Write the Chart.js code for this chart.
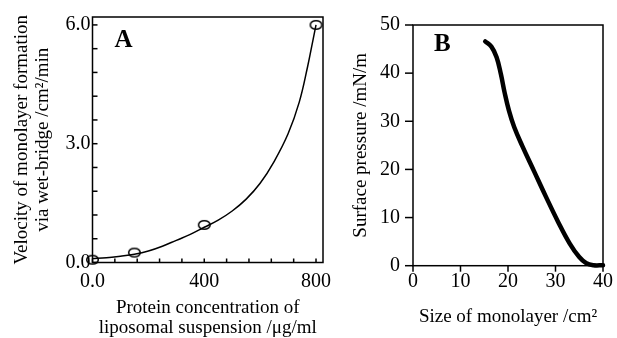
<!DOCTYPE html>
<html>
<head>
<meta charset="utf-8">
<script src="https://cdn.jsdelivr.net/npm/chart.js@4/dist/chart.umd.min.js"></script>
<style>
  html, body { margin: 0; padding: 0; background: #fff; }
  #wrap { position: relative; width: 617px; height: 338px; overflow: hidden; }
  canvas { position: absolute; top: 0; }
  #chartA { left: 0; }
  #chartB { left: 330px; }
</style>
</head>
<body>
<div id="wrap">
  <canvas id="chartA" width="340" height="338"></canvas>
  <canvas id="chartB" width="287" height="338"></canvas>
</div>
<script>
// Painel A: velocidade de formacao da monocamada
const concX = [0, 150, 400, 800];
const velocity = [0.07, 0.25, 0.95, 6.0];
const fitX = [0, 50, 100, 150, 200, 250, 300, 350, 400, 450, 500, 550, 600, 650, 700, 740, 770, 790, 800];
const fitY = [0.10, 0.12, 0.16, 0.21, 0.29, 0.41, 0.56, 0.71, 0.89, 1.07, 1.30, 1.60, 2.00, 2.55, 3.25, 4.05, 4.95, 5.65, 6.00];
const ticksAX = ['0.0', '400', '800'];
const ticksAY = ['0.0', '3.0', '6.0'];

// Painel B: isoterma pressao x area
const areaX = [15.2, 16.5, 17.6, 18.5, 19.3, 20.2, 21.3, 23, 25.5, 28, 30.5, 33, 35, 36.5, 38, 40];
const pressure = [46.6, 45.5, 43.3, 39.8, 35.9, 32.2, 28.8, 24.9, 19.6, 14.3, 9.2, 4.6, 1.8, 0.5, 0.1, 0.1];

const serif = '"Liberation Serif", "DejaVu Serif", serif';
Chart.defaults.font.family = serif;
Chart.defaults.color = '#000';

function pares(xs, ys) {
    return xs.map(function(x, i) { return { x: x, y: ys[i] }; });
}

// marcador eliptico (os circulos do original sao achatados)
const elipse = document.createElement('canvas');
elipse.width = 15; elipse.height = 12;
(function() {
    const c = elipse.getContext('2d');
    c.strokeStyle = '#000';
    c.lineWidth = 1.5;
    c.beginPath();
    c.ellipse(7.5, 6, 5.8, 4.3, 0, 0, Math.PI * 2);
    c.stroke();
})();

// moldura, marcas dos ticks e letra do painel
const moldura = {
    id: 'moldura',
    afterDraw(chart, args, opts) {
        const ctx = chart.ctx;
        const a = chart.chartArea;
        ctx.save();
        ctx.strokeStyle = '#000';
        ctx.lineWidth = opts.lineWidth;
        ctx.strokeRect(a.left, a.top, a.right - a.left, a.bottom - a.top);
        ['x', 'y'].forEach(function(id) {
            const t = opts[id];
            const scale = chart.scales[id];
            scale.ticks.forEach(function(tick) {
                const p = scale.getPixelForValue(tick.value);
                ctx.beginPath();
                if (id === 'x') {
                    ctx.moveTo(p, a.bottom);
                    ctx.lineTo(p, a.bottom + t.len * t.dir);
                } else {
                    ctx.moveTo(a.left, p);
                    ctx.lineTo(a.left - t.len * t.dir, p);
                }
                ctx.stroke();
            });
        });
        ctx.fillStyle = '#000';
        ctx.font = 'bold 25px ' + serif;
        ctx.textBaseline = 'middle';
        ctx.fillText(opts.letter, a.left + opts.letterDx, a.top + opts.letterDy);
        ctx.restore();
    }
};

function ehMultiplo(v, m) {
    return Math.abs(v / m - Math.round(v / m)) < 1e-6;
}

new Chart(document.getElementById('chartA'), {
    type: 'scatter',
    data: {
        datasets: [{
            data: pares(fitX, fitY),
            showLine: true,
            borderColor: '#000',
            borderWidth: 1.5,
            pointRadius: 0,
            tension: 0.4
        }, {
            data: pares(concX, velocity),
            pointStyle: elipse,
            pointRadius: 6,
            clip: false
        }]
    },
    options: {
        responsive: false,
        animation: false,
        layout: { padding: { top: 17, right: 17, bottom: 0, left: 0 } },
        plugins: {
            legend: { display: false },
            tooltip: { enabled: false },
            moldura: { lineWidth: 1.5, x: { len: 4, dir: -1 }, y: { len: 5, dir: -1 }, letter: 'A', letterDx: 22, letterDy: 24 }
        },
        scales: {
            x: {
                type: 'linear', min: 0, max: 825,
                grid: { display: false, drawTicks: false },
                border: { display: false },
                ticks: {
                    stepSize: 80, includeBounds: false, autoSkip: false, maxRotation: 0, padding: 7,
                    font: { size: 20 },
                    callback: function(v) { return ehMultiplo(v, 400) ? ticksAX[Math.round(v / 400)] : ''; }
                },
                title: {
                    display: true,
                    text: ['Protein concentration of', 'liposomal suspension /μg/ml'],
                    font: { size: 19, lineHeight: 1.05 },
                    padding: { top: 0, bottom: 0 }
                },
                afterFit: function(scale) { scale.height = 75.5; }
            },
            y: {
                min: 0, max: 6.2,
                grid: { display: false, drawTicks: false },
                border: { display: false },
                ticks: {
                    stepSize: 0.6, includeBounds: false, autoSkip: false, padding: 2,
                    font: { size: 20 },
                    callback: function(v) { return ehMultiplo(v, 3) ? ticksAY[Math.round(v / 3)] : ''; }
                },
                title: {
                    display: true,
                    text: ['Velocity of monolayer formation', 'via wet-bridge /cm²/min'],
                    font: { size: 19, lineHeight: 1.1 },
                    padding: { top: 12, bottom: 0 }
                },
                afterFit: function(scale) { scale.width = 92.5; }
            }
        }
    },
    plugins: [moldura]
});

new Chart(document.getElementById('chartB'), {
    type: 'scatter',
    data: {
        datasets: [{
            data: pares(areaX, pressure),
            showLine: true,
            borderColor: '#000',
            borderWidth: 4.5,
            borderCapStyle: 'round',
            pointRadius: 0,
            tension: 0.4,
            clip: false
        }]
    },
    options: {
        responsive: false,
        animation: false,
        layout: { padding: { top: 20, right: 10, bottom: 0, left: 0 } },
        plugins: {
            legend: { display: false },
            tooltip: { enabled: false },
            moldura: { lineWidth: 1.5, x: { len: 6, dir: 1 }, y: { len: 8, dir: 1 }, letter: 'B', letterDx: 21, letterDy: 20 }
        },
        scales: {
            x: {
                type: 'linear', min: 0, max: 40,
                grid: { display: false, drawTicks: false },
                border: { display: false },
                ticks: { stepSize: 10, autoSkip: false, maxRotation: 0, padding: 4, font: { size: 20 } },
                title: {
                    display: true,
                    text: 'Size of monolayer /cm²',
                    font: { size: 19 },
                    padding: { top: 0, bottom: 10 }
                },
                afterFit: function(scale) { scale.height = 72.3; }
            },
            y: {
                min: 0, max: 50,
                grid: { display: false, drawTicks: false },
                border: { display: false },
                ticks: { stepSize: 10, autoSkip: false, padding: 13, font: { size: 20 } },
                title: {
                    display: true,
                    text: 'Surface pressure /mN/m',
                    font: { size: 19 },
                    padding: { top: 20, bottom: 0 }
                },
                afterFit: function(scale) { scale.width = 83; }
            }
        }
    },
    plugins: [moldura]
});
</script>
</body>
</html>
